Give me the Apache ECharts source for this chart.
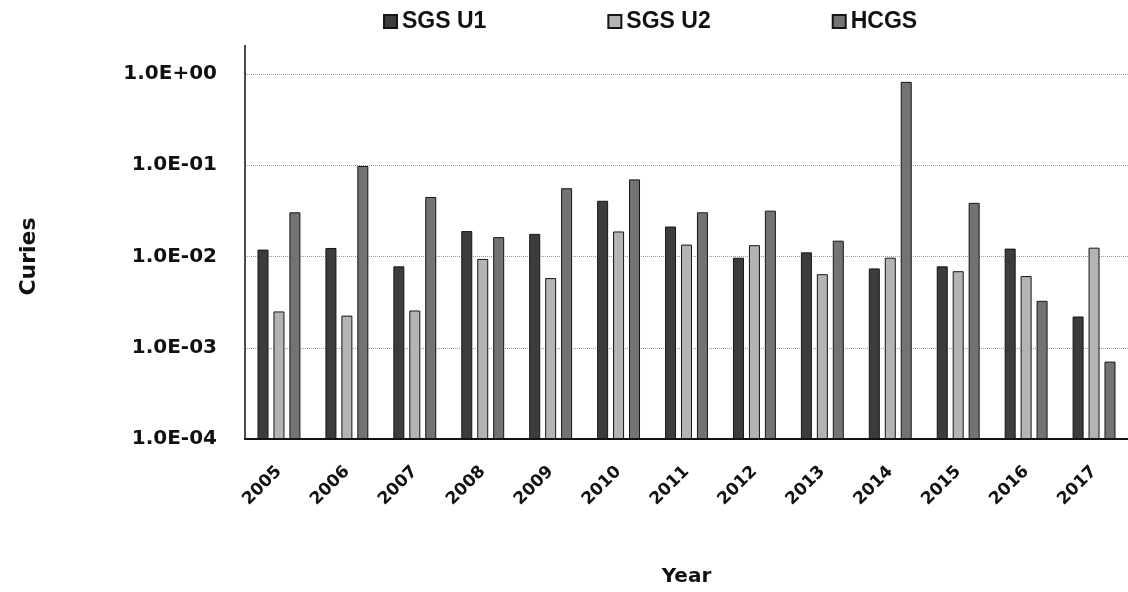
<!DOCTYPE html>
<html>
<head>
<meta charset="utf-8">
<script src="https://cdn.jsdelivr.net/npm/echarts@6/dist/echarts.min.js"></script>
<style>
html,body{margin:0;padding:0;background:#fff;}
#c{width:1128px;height:592px;}
</style>
</head>
<body>
<div id="c"></div>
<script>
const years = ['2005','2006','2007','2008','2009','2010','2011','2012','2013','2014','2015','2016','2017'];
const sgsU1 = [0.0119,0.0124,0.0078,0.0190,0.0177,0.0408,0.0213,0.0097,0.0111,0.0074,0.0078,0.0122,0.0022];
const sgsU2 = [0.0025,0.00225,0.00256,0.0094,0.0058,0.0188,0.0135,0.0133,0.0064,0.0097,0.0069,0.0061,0.0125];
const hcgs  = [0.0305,0.098,0.0449,0.0163,0.056,0.070,0.0305,0.0318,0.0149,0.82,0.0387,0.00327,0.000705];
const yMinExp = -4, yMaxExp = 0; // axis runs 1.0E-04 .. 1.0E+00 (log scale)

// log-scale mapping: decades above the axis minimum
const toLog = (v) => Math.log10(v) - yMinExp;
function fmt(d){
  const e = Math.round(d + yMinExp);
  const s = e < 0 ? '-' : '+';
  const a = Math.abs(e);
  return '1.0E' + s + (a < 10 ? '0' + a : a);
}

const chart = echarts.init(document.getElementById('c'), null, {renderer:'canvas'});
const barStyle = (c) => ({color:c, borderColor:'#151515', borderWidth:1});
chart.setOption({
  animation:false,
  backgroundColor:'#fff',
  legend:{
    top:5, left:378,
    itemWidth:13, itemHeight:13, itemGap:121,
    icon:'rect',
    textStyle:{fontFamily:'Liberation Sans', fontWeight:'bold', fontSize:23, color:'#111'},
    data:['SGS U1','SGS U2','HCGS']
  },
  tooltip:{show:false},
  grid:{left:245, right:-5, top:74, bottom:144, containLabel:false},
  xAxis:{
    type:'category', data:years,
    name:'Year', nameLocation:'middle', nameGap:128,
    nameTextStyle:{fontFamily:'DejaVu Sans', fontWeight:'bold', fontSize:20, color:'#111'},
    axisLine:{lineStyle:{color:'#111', width:2}},
    axisTick:{show:false},
    axisLabel:{rotate:45, margin:30, fontFamily:'DejaVu Sans', fontWeight:'bold', fontSize:17, color:'#111'}
  },
  yAxis:{
    type:'value', min:0, max:yMaxExp - yMinExp, interval:1,
    name:'Curies', nameLocation:'middle', nameGap:205, nameRotate:90,
    nameTextStyle:{fontFamily:'DejaVu Sans', fontWeight:'bold', fontSize:22, color:'#111'},
    axisLine:{show:true, lineStyle:{color:'#111', width:1.5}},
    axisTick:{show:false},
    axisLabel:{margin:28, formatter:fmt, fontFamily:'DejaVu Sans', fontWeight:'bold', fontSize:20, color:'#111'},
    splitLine:{show:true, lineStyle:{color:'#9a9a9a', type:'dotted', width:1}}
  },
  graphic:[{type:'line', shape:{x1:245, y1:45, x2:245, y2:74}, style:{stroke:'#111', lineWidth:1.5}}],
  series:[
    {name:'SGS U1', type:'bar', data:sgsU1.map(toLog), barWidth:11, barGap:'45%', itemStyle:barStyle('#3c3c3c')},
    {name:'SGS U2', type:'bar', data:sgsU2.map(toLog), barWidth:11, barGap:'45%', itemStyle:barStyle('#b4b4b4')},
    {name:'HCGS', type:'bar', data:hcgs.map(toLog), barWidth:11, barGap:'45%', itemStyle:barStyle('#737373')}
  ]
});
</script>
</body>
</html>
